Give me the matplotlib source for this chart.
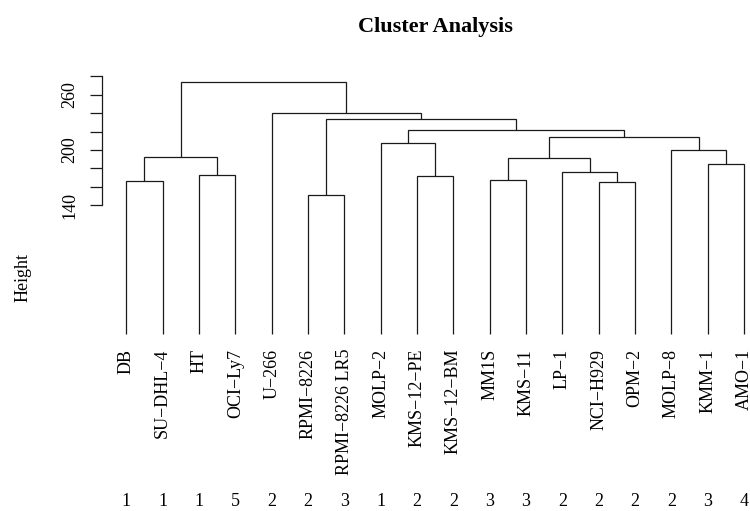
import matplotlib
matplotlib.use("Agg")
import matplotlib.pyplot as plt
from matplotlib.transforms import blended_transform_factory

# Cell lines in dendrogram (leaf) order
labels = ["DB", "SU\u2212DHL\u22124", "HT", "OCI\u2212Ly7", "U\u2212266", "RPMI\u22128226",
          "RPMI\u22128226 LR5", "MOLP\u22122", "KMS\u221212\u2212PE", "KMS\u221212\u2212BM",
          "MM1S", "KMS\u221211", "LP\u22121", "NCI\u2212H929", "OPM\u22122", "MOLP\u22128",
          "KMM\u22121", "AMO\u22121"]
groups = [1, 1, 1, 5, 2, 2, 3, 1, 2, 2, 3, 3, 2, 2, 2, 2, 3, 4]

# hclust-style merge table: negative = leaf (1-based), positive = earlier merge step
merge_a = [-6, -14, -1, -11, -9, -3, -13, -17, 4, 3, -16, -8, 9, 12, 1, -5, 10]
merge_b = [-7, -15, -2, -12, -10, -4, 2, -18, 7, 6, 8, 5, 11, 13, 14, 15, 16]
merge_height = [151.5, 165.6, 166.4, 167.8, 172.1, 172.9, 175.8, 185.1, 191.0,
                192.4, 199.7, 207.3, 213.8, 221.7, 233.3, 240.5, 273.8]

y_ticks = [140, 160, 180, 200, 220, 240, 260, 280]
y_tick_labels = ["140", "", "", "200", "", "", "260", ""]

W, H = 750, 511
fig = plt.figure(figsize=(W / 100, H / 100), dpi=100)
plt.rcParams["font.family"] = ["Liberation Serif", "DejaVu Serif"]
FS = 13

# plot region (pixels), as laid out by the original device
left_px, right_px, top_px, bottom_px = 101.6, 768.7, 71.9, 344.4
ax = fig.add_axes([left_px / W, 1 - bottom_px / H,
                   (right_px - left_px) / W, (bottom_px - top_px) / H])

n = len(labels)
hmax = max(merge_height)
ax.set_xlim(1 - 0.04 * (n - 1), n + 0.04 * (n - 1))
ax.set_ylim(-0.04 * hmax, hmax * 1.04)

lc = "#1a1a1a"
lw = 0.9

def node(ref, centers, heights):
    if ref < 0:
        return float(-ref), 0.0
    return centers[ref - 1], heights[ref - 1]

centers = []
for a, b, h in zip(merge_a, merge_b, merge_height):
    xa, ya = node(a, centers, merge_height)
    xb, yb = node(b, centers, merge_height)
    ax.plot([xa, xa, xb, xb], [ya, h, h, yb], color=lc, lw=lw,
            solid_joinstyle="miter", solid_capstyle="butt")
    centers.append((xa + xb) / 2)

# leaf labels
for i, lab in enumerate(labels, start=1):
    ax.annotate(lab, xy=(i, 0), xytext=(0, -10.5), textcoords="offset points",
                rotation=90, ha="center", va="top", fontsize=FS)

# group numbers under each leaf
tr = blended_transform_factory(ax.transData, fig.transFigure)
for i, g in enumerate(groups, start=1):
    ax.text(i, 1 - 501.5 / H, str(g), transform=tr, ha="center", va="center",
            fontsize=FS)

# y axis
for s in ["top", "right", "bottom"]:
    ax.spines[s].set_visible(False)
ax.spines["left"].set_bounds(y_ticks[0], y_ticks[-1])
ax.spines["left"].set_color(lc)
ax.spines["left"].set_linewidth(lw)
ax.set_xticks([])
ax.set_yticks(y_ticks)
ax.set_yticklabels(y_tick_labels, rotation=90, va="center", fontsize=FS)
ax.tick_params(axis="y", length=8.8, width=lw, color=lc, pad=8)

fig.text(23.5 / W, 1 - 277 / H, "Height", rotation=90, ha="center", va="center",
         fontsize=FS)
fig.text((left_px + right_px) / 2 / W, 1 - 27 / H, "Cluster Analysis",
         ha="center", va="center", fontsize=16, fontweight="bold")

fig.savefig("out.png", dpi=100)
